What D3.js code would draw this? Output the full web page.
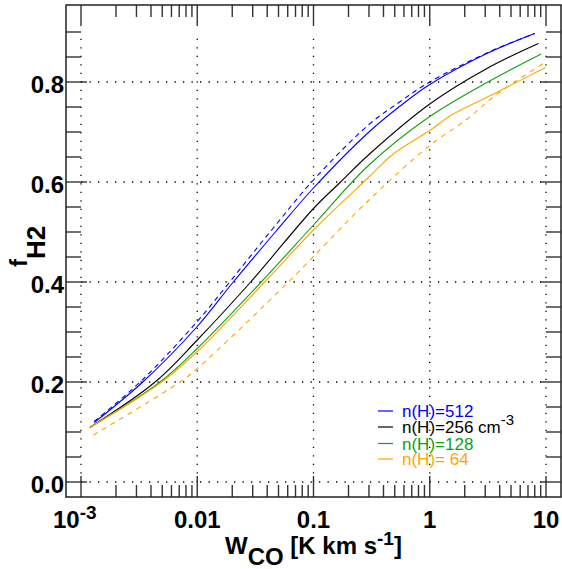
<!DOCTYPE html>
<html><head><meta charset="utf-8">
<script src="https://cdn.jsdelivr.net/npm/d3@7"></script>
<style>body{margin:0;background:#fff}svg{display:block}text{font-family:"Liberation Sans",Arial,sans-serif}</style>
</head><body>
<script>
// ---- data ----
const wBlue   = [0.0013, 0.0034, 0.01, 0.0204, 0.047, 0.1, 0.3, 0.55, 1, 3.16, 8.0];
const fBlue   = [0.119, 0.200, 0.311, 0.400, 0.500, 0.588, 0.700, 0.751, 0.795, 0.858, 0.897];
const wBlueD  = [0.0013, 0.0034, 0.01, 0.019, 0.044, 0.1, 0.3, 0.55, 1, 3.16, 8.0];
const fBlueD  = [0.121, 0.205, 0.321, 0.400, 0.505, 0.604, 0.715, 0.760, 0.800, 0.859, 0.897];
const wBlack  = [0.00119, 0.00434, 0.01, 0.0288, 0.1, 0.171, 0.3, 1, 3.16, 8.6];
const fBlack  = [0.109, 0.200, 0.284, 0.400, 0.547, 0.600, 0.655, 0.756, 0.828, 0.877];
const wGreen  = [0.00119, 0.00479, 0.01, 0.0355, 0.1, 0.3, 1, 3.16, 9.1];
const fGreen  = [0.109, 0.200, 0.267, 0.400, 0.514, 0.634, 0.731, 0.800, 0.856];
const wOrange = [0.00119, 0.00494, 0.01, 0.038, 0.1, 0.3, 0.48, 1, 1.54, 3.61, 9.9];
const fOrange = [0.109, 0.200, 0.261, 0.400, 0.504, 0.610, 0.655, 0.703, 0.734, 0.777, 0.829];
const wOrangeD = [0.00128, 0.00711, 0.01, 0.061, 0.1, 0.3, 1, 2.05, 3.61, 9.9];
const fOrangeD = [0.094, 0.200, 0.227, 0.400, 0.451, 0.564, 0.673, 0.724, 0.772, 0.840];

const xMajor = [0.001, 0.01, 0.1, 1, 10];
const yMajor = [0.0, 0.2, 0.4, 0.6, 0.8];
const yTickLabels = ["0.0", "0.2", "0.4", "0.6", "0.8"];
const legendLabels = ["n(H)=512", "n(H)=256 cm", "n(H)=128", "n(H)= 64"];
const legendColors = ["#0000ff", "#000000", "#119f11", "#ffa500"];

const series = [
  {w: wBlue, f: fBlue, color: "#0000ff", dash: null},
  {w: wBlueD, f: fBlueD, color: "#0000ff", dash: "5,4"},
  {w: wBlack, f: fBlack, color: "#000000", dash: null},
  {w: wGreen, f: fGreen, color: "#119f11", dash: null},
  {w: wOrange, f: fOrange, color: "#ffa500", dash: null},
  {w: wOrangeD, f: fOrangeD, color: "#ffa500", dash: "5,5"}
];

// ---- layout ----
const W = 562, H = 569;
const L = 66, R = 561, T = 5, B = 497;
const dec = (546 - 81) / 4;
const x = d3.scaleLog().domain([Math.pow(10, -3 - 15/dec), Math.pow(10, 1 + 15/dec)]).range([L, R]);
const y = d3.scaleLinear().domain([-0.03, 0.954]).range([B, T]);

const svg = d3.select("body").append("svg").attr("width", W).attr("height", H);

// grid
const g = svg.append("g").attr("stroke", "#000").attr("stroke-width", 1.3).attr("stroke-dasharray", "1.3,7.2");
xMajor.forEach(v => g.append("line").attr("x1", x(v)).attr("x2", x(v)).attr("y1", y(0)).attr("y2", y(0.888)));
yMajor.forEach(v => g.append("line").attr("y1", y(v)).attr("y2", y(v)).attr("x1", x(0.001)).attr("x2", x(10)));

// ticks
const tk = svg.append("g").attr("stroke", "#333").attr("stroke-width", 1.4);
const xMinor = [];
for (let e = -3; e < 1; e++) for (let m = 2; m <= 9; m++) xMinor.push(m * Math.pow(10, e));
xMajor.forEach(v => {
  tk.append("line").attr("x1", x(v)).attr("x2", x(v)).attr("y1", B).attr("y2", B - 21);
  tk.append("line").attr("x1", x(v)).attr("x2", x(v)).attr("y1", T).attr("y2", T + 21);
});
xMinor.forEach(v => {
  tk.append("line").attr("x1", x(v)).attr("x2", x(v)).attr("y1", B).attr("y2", B - 12);
  tk.append("line").attr("x1", x(v)).attr("x2", x(v)).attr("y1", T).attr("y2", T + 12);
});
const yMinor = d3.range(1, 19).map(i => i * 0.05).filter(v => Math.abs(v / 0.2 - Math.round(v / 0.2)) > 1e-6);
yMajor.forEach(v => {
  tk.append("line").attr("y1", y(v)).attr("y2", y(v)).attr("x1", L).attr("x2", L + 21);
  tk.append("line").attr("y1", y(v)).attr("y2", y(v)).attr("x1", R).attr("x2", R - 21);
});
yMinor.forEach(v => {
  tk.append("line").attr("y1", y(v)).attr("y2", y(v)).attr("x1", L).attr("x2", L + 15);
  tk.append("line").attr("y1", y(v)).attr("y2", y(v)).attr("x1", R).attr("x2", R - 15);
});

// frame
svg.append("rect").attr("x", L).attr("y", T).attr("width", R - L).attr("height", B - T)
  .attr("fill", "none").attr("stroke", "#222").attr("stroke-width", 1.5);

// curves
const line = d3.line().x(d => x(d[0])).y(d => y(d[1])).curve(d3.curveCatmullRom.alpha(0.5));
series.forEach(s => {
  const pts = s.w.map((w, i) => [w, s.f[i]]);
  svg.append("path").attr("d", line(pts)).attr("fill", "none").attr("stroke", s.color)
    .attr("stroke-width", 1.1).attr("stroke-dasharray", s.dash);
});

// y tick labels
yMajor.forEach((v, i) => {
  svg.append("text").attr("x", 64).attr("y", y(v) + 10.5).attr("text-anchor", "end")
    .attr("font-size", 24).attr("font-weight", "bold").text(yTickLabels[i]);
});
// x tick labels
const xl = svg.append("g").attr("font-size", 24).attr("font-weight", "bold");
const t0 = xl.append("text").attr("x", x(0.001) - 28).attr("y", 528);
t0.append("tspan").text("10");
t0.append("tspan").attr("font-size", 19).attr("dy", -9).text("-3");
[["0.01", 0.01], ["0.1", 0.1], ["1", 1], ["10", 10]].forEach(([s, v]) => {
  xl.append("text").attr("x", x(v)).attr("y", 528).attr("text-anchor", "middle").text(s);
});

// x title
const xt = svg.append("text").attr("x", 225).attr("y", 554).attr("font-size", 24).attr("font-weight", "bold");
xt.append("tspan").text("W");
xt.append("tspan").attr("dy", 11).text("CO");
xt.append("tspan").attr("dy", -11).text(" [K km s");
xt.append("tspan").attr("dy", -9).attr("font-size", 19).text("-1");
xt.append("tspan").attr("dy", 9).text("]");

// y title
const yt = svg.append("text").attr("transform", "translate(27,267) rotate(-90)")
  .attr("font-size", 24).attr("font-weight", "bold");
yt.append("tspan").text("f");
yt.append("tspan").attr("dy", 18).attr("font-size", 26).text("H");
yt.append("tspan").attr("font-size", 26).text("2");

// legend
const baseY = [417, 433, 449.5, 465];
legendLabels.forEach((s, i) => {
  svg.append("line").attr("x1", 378).attr("x2", 393).attr("y1", baseY[i] - 6).attr("y2", baseY[i] - 6)
    .attr("stroke", legendColors[i]).attr("stroke-width", 1.2);
  const t = svg.append("text").attr("x", 402).attr("y", baseY[i]).attr("font-size", 17)
    .attr("fill", legendColors[i]).text(s);
  if (i === 1) t.append("tspan").attr("dy", -8).attr("font-size", 15).text("-3");
});
</script>
</body></html>
